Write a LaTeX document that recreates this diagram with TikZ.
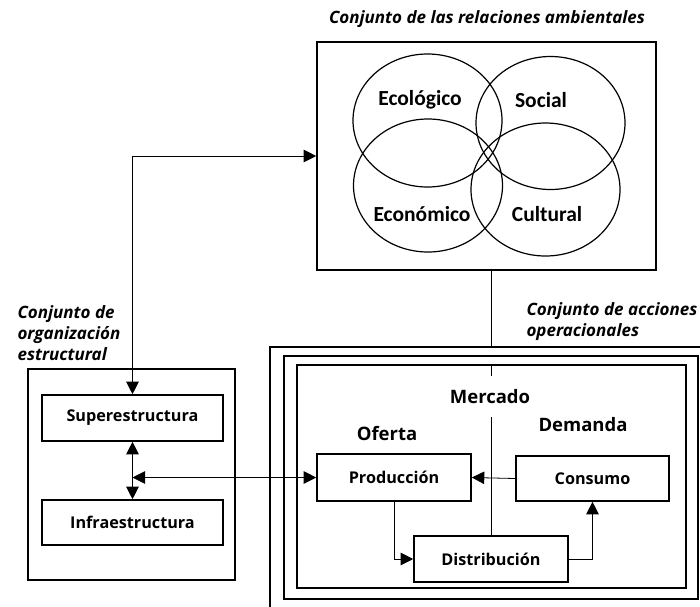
\documentclass[tikz,border=0pt]{standalone}
\usepackage{fontspec}
\setmainfont{Open Sans}
\newfontfamily\circfont{Carlito}
\usetikzlibrary{positioning}
\usetikzlibrary{arrows.meta}
\usetikzlibrary{math}

\tikzset{
  blok/.style={draw, line width=1.6pt, inner sep=0pt},
  tag/.style={font=\fontsize{16.2}{19}\selectfont\bfseries},
  head/.style={font=\fontsize{18.5}{22}\selectfont\bfseries},
  circtag/.style={font=\fontsize{21.5}{24}\selectfont\circfont\bfseries},
  note/.style={font=\fontsize{17}{21}\selectfont\bfseries\itshape, align=left},
  link/.style={line width=0.8pt},
  >={Triangle[length=12.5pt,width=12.5pt]},
}

\begin{document}
\begin{tikzpicture}[x=1pt,y=-1pt]

  \useasboundingbox (0,0) rectangle (700,606);

  \tikzmath{
    \rx = 74.5; % horizontal radius of the ellipses
    \ry = 66.5; % vertical radius of the ellipses
  }

  % Conjunto de las relaciones ambientales
  \node[blok, minimum width=339pt, minimum height=228pt] (amb) at (486.5,156) {};
  \node[note] (ambtitle) at (487,19) {Conjunto de las relaciones ambientales};

  \draw[line width=1.2pt] (427.5,120.5) ellipse [x radius=\rx, y radius=\ry];
  \draw[line width=1.2pt] (550.5,123)   ellipse [x radius=\rx, y radius=\ry];
  \draw[line width=1.2pt] (428,185.5)   ellipse [x radius=\rx, y radius=\ry];
  \draw[line width=1.2pt] (545.5,189.5) ellipse [x radius=\rx, y radius=\ry];

  \node[circtag] (eco)  at (420,100) {Ecológico};
  \node[circtag] (soc)  at (541,100) {Social};
  \node[circtag] (econ) at (422,214) {Económico};
  \node[circtag] (cult) at (547,214) {Cultural};

  % Conjunto de organizacion estructural
  \node[blok, minimum width=207pt, minimum height=211pt] (org) at (131.5,474.5) {};
  \node[note, anchor=west] (orgtitle) at (14,333) {Conjunto de\\organización\\estructural};
  \node[blok, tag, minimum width=181pt, minimum height=46pt] (sup) at (132.5,418) {Superestructura};
  \node[blok, tag, minimum width=181pt, minimum height=45pt] (inf) at (132.5,522.5) {Infraestructura};

  % Conjunto de acciones operacionales
  \node[blok, minimum width=442pt, minimum height=265pt] (ops)  at (491,479.5) {};
  \node[blok, minimum width=414pt, minimum height=243pt] (ops2) at (491,477.5) {};
  \node[blok, minimum width=389pt, minimum height=223pt] (merc) at (491.5,476.5) {};
  \node[note, anchor=west] (opstitle) at (523,321.5) {Conjunto de acciones\\operacionales};

  \node[head] (merctag) at (490,397) {Mercado};
  \node[head] (ofer)    at (387,434) {Oferta};
  \node[head] (dem)     at (583,425) {Demanda};

  \node[blok, tag, minimum width=154pt, minimum height=47pt] (prod) at (394,477.5) {Producción};
  \node[blok, tag, minimum width=153pt, minimum height=45pt] (cons) at (592.5,478.5) {Consumo};
  \node[blok, tag, minimum width=154pt, minimum height=46pt] (dist) at (491,559) {Distribución};

  % Market divider
  \coordinate (split) at (491,417);
  \draw[link] (amb.south -| dist.north) -- (ops.north -| dist.north);
  \draw[link] (merc.north -| dist.north) -- ++(0,12);
  \draw[link] (split) -- (dist.north);

  % connections
  \coordinate (orgmid) at (sup.south |- prod.west);
  \draw[link, <->] (sup.north) |- (amb.west);
  \draw[link, <->] (sup.south) -- (inf.north);
  \draw[link, <->] (orgmid) -- (prod.west);
  \draw[link, ->] (cons.west) -- (prod.east);
  \draw[link, ->] (prod.south) |- (dist.west);
  \draw[link, ->] (dist.east) -| (cons.south);

\end{tikzpicture}
\end{document}
